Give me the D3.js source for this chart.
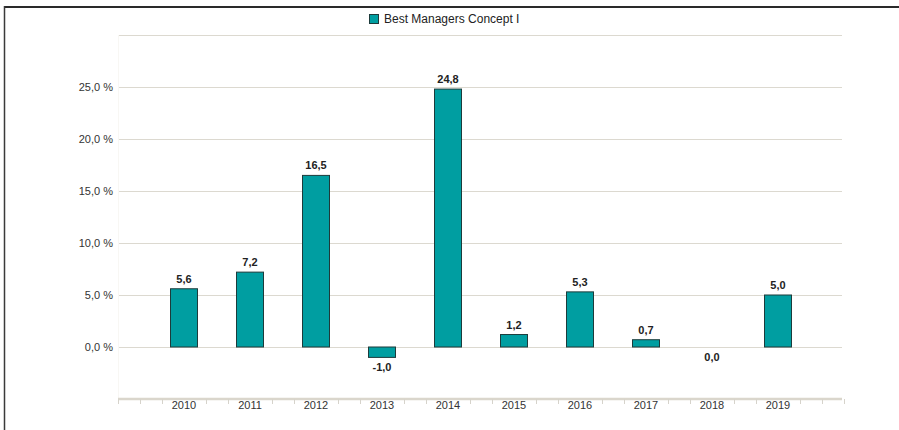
<!DOCTYPE html>
<html>
<head>
<meta charset="utf-8">
<script src="https://cdn.jsdelivr.net/npm/d3@7"></script>
<style>
  body { margin: 0; background: #fff; }
  svg { display: block; font-family: "Liberation Sans", Arial, sans-serif; }
</style>
</head>
<body>
<div id="chart"></div>
<script>
(() => {
    const width = 899;
    const height = 430;

    // Chart data
    const years = [2010, 2011, 2012, 2013, 2014, 2015, 2016, 2017, 2018, 2019];
    const returns = [5.6, 7.2, 16.5, -1.0, 24.8, 1.2, 5.3, 0.7, 0.0, 5.0];
    const yTicks = [0, 5, 10, 15, 20, 25];
    const seriesName = "Best Managers Concept I";

    const fmt = v => v.toFixed(1).replace(".", ",");

    const svg = d3.select("#chart")
        .append("svg")
        .attr("width", width)
        .attr("height", height);

    // Outer frame (top and left edges visible)
    svg.append("line")
        .attr("x1", 4).attr("x2", width)
        .attr("y1", 7).attr("y2", 7)
        .attr("stroke", "#2a2a2a")
        .attr("stroke-width", 2);
    svg.append("line")
        .attr("x1", 4.5).attr("x2", 4.5)
        .attr("y1", 6).attr("y2", height)
        .attr("stroke", "#3a3a3a")
        .attr("stroke-width", 1.5);

    const xScale = d3.scaleLinear().domain([2009, 2020]).range([118, 844]);
    const yScale = d3.scaleLinear().domain([-5, 30]).range([399, 35]);

    // Gridlines
    svg.append("g")
        .selectAll("line")
        .data([...yTicks, 30])
        .join("line")
        .attr("x1", xScale(2009))
        .attr("x2", xScale(2020) - 2)
        .attr("y1", d => Math.round(yScale(d)) + 0.5)
        .attr("y2", d => Math.round(yScale(d)) + 0.5)
        .attr("stroke", "#dcd9d0")
        .attr("stroke-width", 1);

    // Faint left edge of plot area
    svg.append("line")
        .attr("x1", xScale(2009) + 0.5).attr("x2", xScale(2009) + 0.5)
        .attr("y1", yScale(30)).attr("y2", yScale(-5))
        .attr("stroke", "#f8f7f4");

    // Y axis labels
    svg.append("g")
        .selectAll("text")
        .data(yTicks)
        .join("text")
        .attr("x", 113)
        .attr("y", d => yScale(d) + 4)
        .attr("text-anchor", "end")
        .style("font-size", "11px")
        .style("fill", "#333")
        .text(d => `${fmt(d)} %`);

    // X axis line
    svg.append("line")
        .attr("x1", xScale(2009))
        .attr("x2", xScale(2020) - 2)
        .attr("y1", yScale(-5))
        .attr("y2", yScale(-5))
        .attr("stroke", "#dad6cc")
        .attr("stroke-width", 2.5);

    // Minor ticks every third of a year, hidden under year labels
    const minorTicks = d3.range(0, 34)
        .map(i => 2009 + i / 3)
        .filter(t => !years.some(y => Math.abs(y - t) < 0.01));
    svg.append("g")
        .selectAll("line")
        .data(minorTicks)
        .join("line")
        .attr("x1", d => Math.round(xScale(d)) + 0.5)
        .attr("x2", d => Math.round(xScale(d)) + 0.5)
        .attr("y1", yScale(-5))
        .attr("y2", yScale(-5) + 5)
        .attr("stroke", "#d6d3cb")
        .attr("stroke-width", 1);

    // X labels
    svg.append("g")
        .selectAll("text")
        .data(years)
        .join("text")
        .attr("x", d => xScale(d))
        .attr("y", 409)
        .attr("text-anchor", "middle")
        .style("font-size", "11px")
        .style("fill", "#333")
        .text(d => d);

    // Bars
    const barWidth = 27;
    svg.append("g")
        .selectAll("rect")
        .data(years.map((y, i) => ({ year: y, value: returns[i] })))
        .join("rect")
        .filter(d => d.value !== 0)
        .attr("x", d => xScale(d.year) - barWidth / 2)
        .attr("y", d => yScale(Math.max(0, d.value)))
        .attr("width", barWidth)
        .attr("height", d => Math.abs(yScale(d.value) - yScale(0)))
        .attr("fill", "#009ea1")
        .attr("stroke", "#1d3b3b")
        .attr("stroke-width", 1);

    // Value labels
    svg.append("g")
        .selectAll("text")
        .data(years.map((y, i) => ({ year: y, value: returns[i] })))
        .join("text")
        .attr("x", d => xScale(d.year))
        .attr("y", d => d.value > 0 ? yScale(d.value) - 6 : yScale(Math.min(0, d.value)) + 14)
        .attr("text-anchor", "middle")
        .style("font-size", "11px")
        .style("font-weight", "bold")
        .style("fill", "#222")
        .text(d => fmt(d.value));

    // Legend
    const legend = svg.append("g").attr("transform", "translate(369, 14)");
    legend.append("rect")
        .attr("x", 0.5).attr("y", 0.5)
        .attr("width", 9).attr("height", 9)
        .attr("fill", "#009ea1")
        .attr("stroke", "#1d3b3b");
    legend.append("text")
        .attr("x", 15)
        .attr("y", 9)
        .style("font-size", "12px")
        .style("fill", "#222")
        .text(seriesName);
})();
</script>
</body>
</html>
